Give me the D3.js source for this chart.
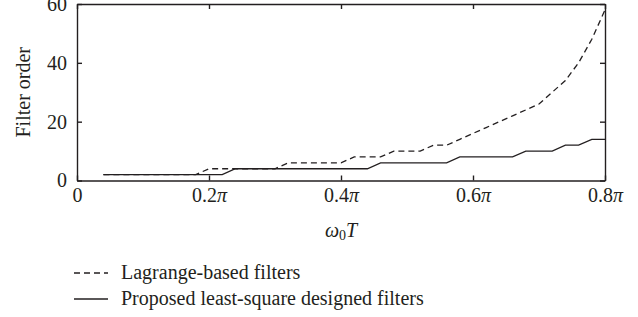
<!DOCTYPE html>
<html>
<head>
<meta charset="utf-8">
<script src="https://cdn.jsdelivr.net/npm/d3@7"></script>
<style>
  body { margin: 0; background: #fff; }
  svg { display: block; }
  text { font-family: "Liberation Serif", "DejaVu Serif", serif; fill: #231f20; }
  .axis path, .axis line { stroke: #231f20; stroke-width: 1.4; }
</style>
</head>
<body>
<svg id="chart" width="638" height="317"></svg>
<script>
"use strict";

// omega0*T in units of pi
const omega = [0.04, 0.06, 0.08, 0.10, 0.12, 0.14, 0.16, 0.18, 0.20, 0.22,
  0.24, 0.26, 0.28, 0.30, 0.32, 0.34, 0.36, 0.38, 0.40, 0.42,
  0.44, 0.46, 0.48, 0.50, 0.52, 0.54, 0.56, 0.58, 0.60, 0.62,
  0.64, 0.66, 0.68, 0.70, 0.72, 0.74, 0.76, 0.78, 0.80];

const lagrange = [2, 2, 2, 2, 2, 2, 2, 2, 4, 4,
  4, 4, 4, 4, 6, 6, 6, 6, 6, 8,
  8, 8, 10, 10, 10, 12, 12, 14, 16, 18,
  20, 22, 24, 26, 30, 34, 40, 48, 58];

const leastSquare = [2, 2, 2, 2, 2, 2, 2, 2, 2, 2,
  4, 4, 4, 4, 4, 4, 4, 4, 4, 4,
  4, 6, 6, 6, 6, 6, 6, 8, 8, 8,
  8, 8, 10, 10, 10, 12, 12, 14, 14];

const xTicks = [0, 0.2, 0.4, 0.6, 0.8];
const yTicks = [0, 20, 40, 60];

const legendLabels = ["Lagrange-based filters", "Proposed least-square designed filters"];

(function () {
  const svg = d3.select('#chart');
  const left = 77, right = 605, top = 4, bottom = 180.5;

  const x = d3.scaleLinear().domain([0, 0.8]).range([left, right]);
  const y = d3.scaleLinear().domain([0, 60]).range([bottom, top]);

  function piLabel(sel) {
    sel.each(function (d) {
      const t = d3.select(this).text(null);
      if (d === 0) { t.text('0'); return; }
      t.append('tspan').text(d3.format('.1f')(d));
      t.append('tspan').attr('font-style', 'italic').text('\u03c0');
    });
  }

  // bottom axis
  const gx = svg.append('g')
    .attr('class', 'axis')
    .attr('transform', 'translate(0,' + bottom + ')')
    .call(d3.axisBottom(x).tickValues(xTicks).tickSizeInner(-5).tickSizeOuter(0).tickPadding(7));
  gx.selectAll('text').attr('font-size', 20).call(piLabel);

  // top axis (ticks only)
  svg.append('g')
    .attr('class', 'axis')
    .attr('transform', 'translate(0,' + top + ')')
    .call(d3.axisTop(x).tickValues(xTicks).tickSizeInner(-5).tickSizeOuter(0).tickFormat(''));

  // left axis
  const gy = svg.append('g')
    .attr('class', 'axis')
    .attr('transform', 'translate(' + left + ',0)')
    .call(d3.axisLeft(y).tickValues(yTicks).tickSizeInner(-5).tickSizeOuter(0).tickPadding(10));
  gy.selectAll('text').attr('font-size', 20);

  // right axis (ticks only)
  svg.append('g')
    .attr('class', 'axis')
    .attr('transform', 'translate(' + right + ',0)')
    .call(d3.axisRight(y).tickValues(yTicks).tickSizeInner(-5).tickSizeOuter(0).tickFormat(''));

  svg.selectAll('.axis .domain').attr('stroke', '#231f20');

  const line = d3.line()
    .x(d => x(d[0]))
    .y(d => y(d[1]));

  const lagData = omega.map((w, i) => [w, lagrange[i]]);
  const lsData = omega.map((w, i) => [w, leastSquare[i]]);

  svg.append('path')
    .datum(lsData)
    .attr('d', line)
    .attr('fill', 'none')
    .attr('stroke', '#231f20')
    .attr('stroke-width', 1.3);

  svg.append('path')
    .datum(lagData)
    .attr('d', line)
    .attr('fill', 'none')
    .attr('stroke', '#231f20')
    .attr('stroke-width', 1.3)
    .attr('stroke-dasharray', '6,4');

  // axis titles
  const xt = svg.append('text')
    .attr('x', (left + right) / 2)
    .attr('y', 237)
    .attr('text-anchor', 'middle')
    .attr('font-size', 20);
  xt.append('tspan').attr('font-style', 'italic').text('\u03c9');
  xt.append('tspan').attr('font-size', 14).attr('dy', 3).text('0');
  xt.append('tspan').attr('font-style', 'italic').attr('dy', -3).text('T');

  svg.append('text')
    .attr('transform', 'translate(30,' + ((top + bottom) / 2) + ') rotate(-90)')
    .attr('text-anchor', 'middle')
    .attr('font-size', 20)
    .text('Filter order');

  // legend
  const legend = svg.append('g');
  const rows = legend.selectAll('g')
    .data(legendLabels)
    .enter()
    .append('g')
    .attr('transform', (d, i) => 'translate(0,' + (273 + i * 26) + ')');

  rows.append('line')
    .attr('x1', 74).attr('x2', 108)
    .attr('stroke', '#231f20')
    .attr('stroke-width', 1.3)
    .attr('stroke-dasharray', (d, i) => i === 0 ? '6,4' : null);

  rows.append('text')
    .attr('x', 121)
    .attr('y', 5.5)
    .attr('font-size', 20)
    .text(d => d);
})();
</script>
</body>
</html>
